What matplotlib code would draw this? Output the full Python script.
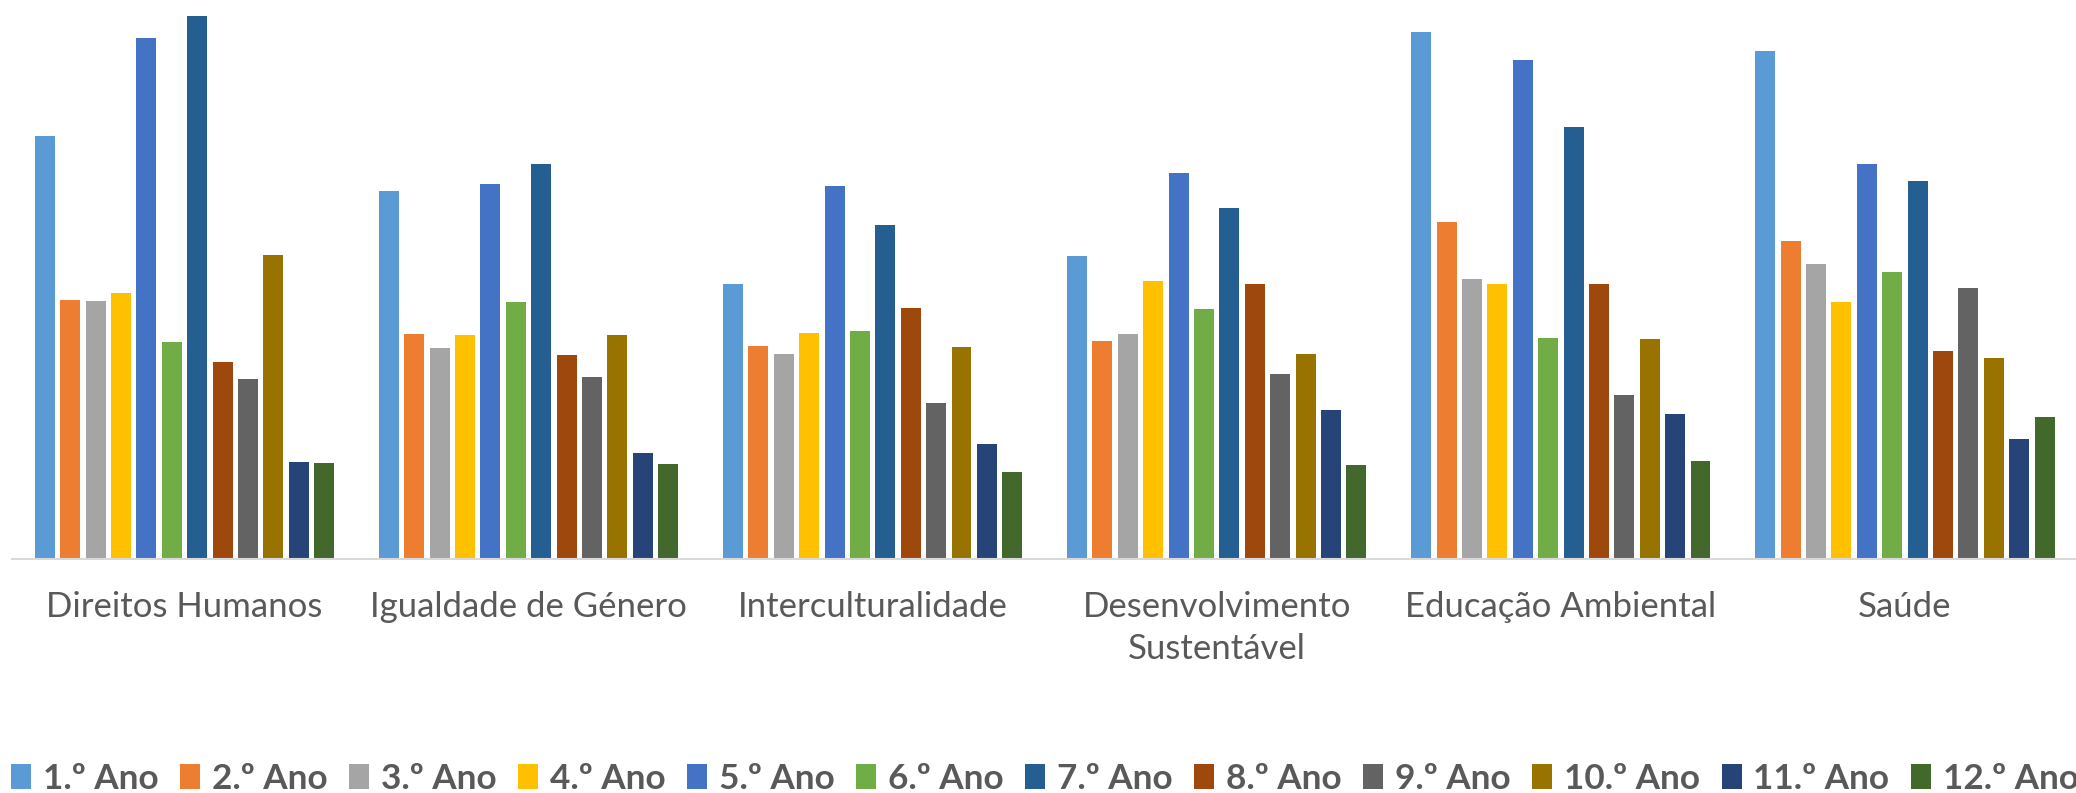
import numpy as np
import matplotlib.pyplot as plt

# ===============================
# data (bar heights)
# ===============================
categories = ["Direitos Humanos", "Igualdade de Género", "Interculturalidade",
              "Desenvolvimento\nSustentável", "Educação Ambiental", "Saúde"]

series_names = ["1.º Ano", "2.º Ano", "3.º Ano", "4.º Ano", "5.º Ano", "6.º Ano",
                "7.º Ano", "8.º Ano", "9.º Ano", "10.º Ano", "11.º Ano", "12.º Ano"]

ano_1 = [423.6, 368.0, 275.2, 303.9, 527.0, 508.2]
ano_2 = [259.0, 225.0, 213.9, 218.5, 337.2, 318.0]
ano_3 = [258.0, 211.6, 205.1, 225.0, 280.5, 295.8]
ano_4 = [266.7, 224.0, 226.9, 278.2, 275.9, 257.2]
ano_5 = [521.0, 375.8, 373.9, 386.1, 499.4, 395.7]
ano_6 = [217.0, 257.0, 228.1, 250.3, 221.6, 287.0]
ano_7 = [543.0, 395.7, 334.9, 351.3, 432.4, 378.1]
ano_8 = [197.0, 204.7, 251.8, 275.9, 275.2, 208.6]
ano_9 = [180.6, 182.5, 156.1, 185.2, 164.9, 271.7]
ano_10 = [304.0, 224.0, 212.8, 205.9, 220.4, 201.7]
ano_11 = [97.2, 106.0, 115.2, 149.6, 145.0, 120.5]
ano_12 = [96.0, 95.0, 87.3, 94.1, 98.0, 142.0]

all_series = [ano_1, ano_2, ano_3, ano_4, ano_5, ano_6,
              ano_7, ano_8, ano_9, ano_10, ano_11, ano_12]

colors = ["#5B9BD5", "#ED7D31", "#A5A5A5", "#FFC000", "#4472C4", "#70AD47",
          "#255E91", "#9E480E", "#636363", "#997300", "#264478", "#43682B"]

# ===============================
# plot
# ===============================
plt.rcParams["font.family"] = ["Lato", "DejaVu Sans"]

fig = plt.figure(figsize=(20.76, 7.93), dpi=100)
ax = fig.add_axes([0.00597, 0.2945, 0.9945, 0.7055])

x = np.arange(len(categories))
pitch = 0.0738
width = 0.058
for i, (vals, col, name) in enumerate(zip(all_series, colors, series_names)):
    ax.bar(x + (i - 5.5) * pitch, vals, width=width, color=col, label=name)

ax.set_xlim(-0.5, len(categories) - 0.5)
ax.set_ylim(0, 559.5)
ax.set_yticks([])
for s in ["top", "left", "right"]:
    ax.spines[s].set_visible(False)
ax.spines["bottom"].set_color("#D9D9D9")
ax.spines["bottom"].set_linewidth(1.5)

ax.set_xticks(x)
ax.set_xticklabels(categories, fontsize=25, color="#595959", linespacing=1.35)
ax.tick_params(axis="x", length=0, pad=23)

# legend runs past the right edge, as in the original
leg = fig.legend(loc="center left", bbox_to_anchor=(0.0053, 0.018), ncol=12,
                 frameon=False, borderpad=0, borderaxespad=0,
                 prop={"size": 25.3, "weight": "bold"},
                 handlelength=0.57, handleheight=0.7, handletextpad=0.33,
                 columnspacing=0.62)
for t in leg.get_texts():
    t.set_color("#595959")

fig.savefig("out.png", dpi=100)
